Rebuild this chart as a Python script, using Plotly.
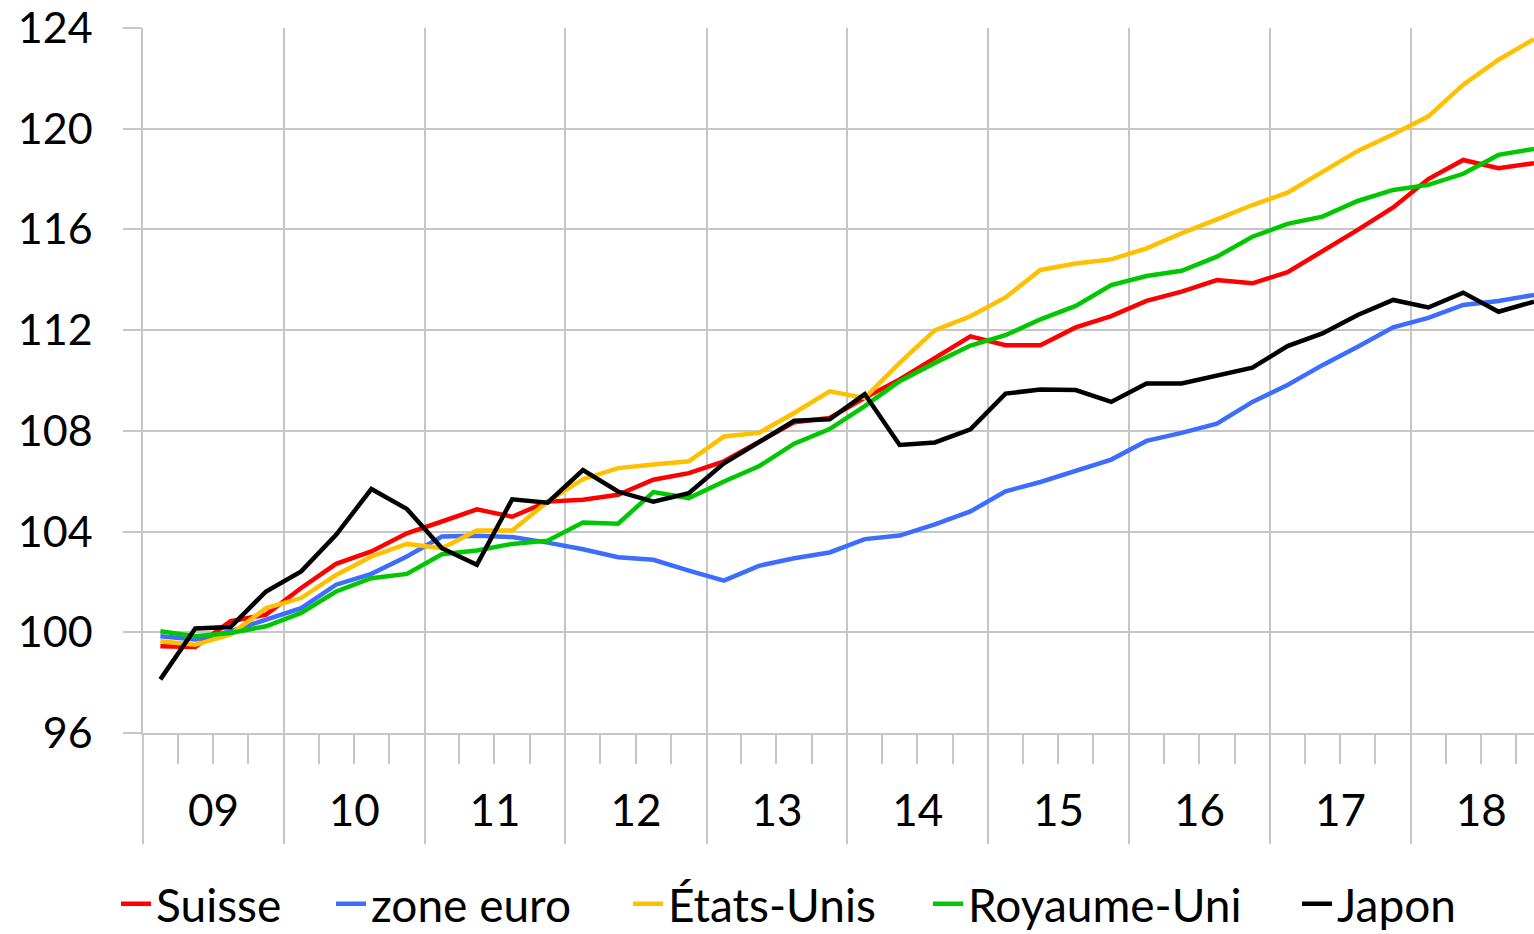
import pandas as pd
import plotly.graph_objects as go

# Quarterly periods 2009Q1 - 2018Q4
quarters = pd.period_range("2009Q1", "2018Q4", freq="Q")
x_dates = [p.start_time + (p.end_time - p.start_time) / 2 for p in quarters]

suisse = [99.45, 99.42, 100.44, 100.70, 101.76, 102.72, 103.21, 103.93, 104.40, 104.88,
          104.59, 105.19, 105.26, 105.46, 106.06, 106.32, 106.79, 107.54, 108.34, 108.51,
          109.31, 110.04, 110.90, 111.75, 111.40, 111.40, 112.11, 112.56, 113.16, 113.53,
          113.99, 113.86, 114.30, 115.12, 115.98, 116.87, 118.00, 118.76, 118.43, 118.63]
zone_euro = [99.84, 99.71, 100.04, 100.50, 100.96, 101.89, 102.32, 103.01, 103.80, 103.83,
             103.78, 103.56, 103.30, 102.98, 102.88, 102.45, 102.05, 102.64, 102.94, 103.17,
             103.70, 103.84, 104.29, 104.80, 105.60, 105.97, 106.41, 106.86, 107.60, 107.92,
             108.29, 109.15, 109.82, 110.61, 111.34, 112.11, 112.49, 113.00, 113.16, 113.40]
etats_unis = [99.64, 99.51, 99.91, 100.96, 101.36, 102.28, 103.01, 103.51, 103.34, 104.04,
              104.04, 105.19, 106.08, 106.52, 106.66, 106.79, 107.78, 107.92, 108.71, 109.57,
              109.31, 110.70, 112.00, 112.55, 113.30, 114.39, 114.65, 114.81, 115.25, 115.85,
              116.40, 116.97, 117.46, 118.30, 119.12, 119.78, 120.49, 121.75, 122.74, 123.56]
royaume_uni = [100.04, 99.84, 99.97, 100.24, 100.77, 101.62, 102.15, 102.32, 103.10, 103.25,
               103.51, 103.64, 104.36, 104.31, 105.57, 105.33, 105.99, 106.59, 107.49, 108.07,
               108.98, 109.97, 110.70, 111.39, 111.80, 112.43, 112.96, 113.79, 114.15, 114.36,
               114.92, 115.71, 116.22, 116.51, 117.13, 117.57, 117.77, 118.21, 118.96, 119.20]
japon = [98.13, 100.15, 100.21, 101.62, 102.42, 103.87, 105.69, 104.90, 103.34, 102.68,
         105.28, 105.15, 106.44, 105.59, 105.19, 105.52, 106.71, 107.57, 108.40, 108.46,
         109.46, 107.44, 107.54, 108.06, 109.48, 109.64, 109.62, 109.15, 109.88, 109.88,
         110.21, 110.51, 111.37, 111.87, 112.60, 113.20, 112.90, 113.49, 112.73, 113.13]

series_names = ["Suisse", "zone euro", "États-Unis", "Royaume-Uni", "Japon"]
series_values = [suisse, zone_euro, etats_unis, royaume_uni, japon]
series_colors = ["#FF0000", "#3D6DFF", "#FFC000", "#00C800", "#000000"]
# width reserved for each legend entry (px)
legend_widths = [170, 252, 255, 324, 130]

y_ticks = [96, 100, 104, 108, 112, 116, 120, 124]

FONT = "Lato"
GRID = "#C6C6C6"

fig = go.Figure()
for name, vals, col, lw in zip(series_names, series_values, series_colors, legend_widths):
    fig.add_trace(go.Scatter(x=x_dates, y=vals, name=name, mode="lines",
                             line=dict(color=col, width=4.5), legendwidth=lw))

x_range = ["2009-01-01", "2018-11-16"]

fig.update_layout(
    width=1534, height=934,
    margin=dict(l=143, r=0, t=28, b=201, autoexpand=False),
    paper_bgcolor="white", plot_bgcolor="white",
    font=dict(family=FONT, size=43, color="black"),
    showlegend=True,
    legend=dict(orientation="h", x=-0.0194, xanchor="left", y=-0.2425, yanchor="middle",
                font=dict(family=FONT, size=46, color="black"),
                itemwidth=30, bgcolor="rgba(0,0,0,0)", borderwidth=0),
    xaxis=dict(type="date", range=x_range, tick0="2009-01-01", dtick="M12",
               showticklabels=False, ticks="outside", ticklen=109, tickwidth=1.5,
               tickcolor=GRID, showgrid=True, gridcolor=GRID, gridwidth=1.5,
               showline=True, linecolor=GRID, linewidth=1.5, zeroline=False,
               minor=dict(dtick="M3", tick0="2009-01-01", ticks="outside", ticklen=29,
                          tickwidth=1.5, tickcolor=GRID, showgrid=False)),
    xaxis2=dict(type="date", range=x_range, overlaying="x", anchor="y", side="bottom",
                tick0="2009-01-01", dtick="M12", ticklabelmode="period", tickformat="%y",
                ticks="", showgrid=False, showline=False, zeroline=False,
                ticklabelstandoff=48,
                tickfont=dict(family=FONT, size=44, color="black")),
    yaxis=dict(range=[96, 124], tickvals=y_ticks, ticks="outside", ticklen=18,
               tickwidth=1.5, tickcolor=GRID, showgrid=True, gridcolor=GRID, gridwidth=1.5,
               showline=True, linecolor=GRID, linewidth=1.5, zeroline=False,
               ticklabelstandoff=22,
               tickfont=dict(family=FONT, size=43, color="black")),
)

# invisible trace to keep the label axis alive
fig.add_trace(go.Scatter(x=[x_dates[0]], y=[None], xaxis="x2", yaxis="y",
                         showlegend=False, hoverinfo="skip", mode="lines"))

fig.write_html("out.html", config={"displayModeBar": False},
               post_script="document.body.style.margin='0';document.body.style.overflow='hidden';")
